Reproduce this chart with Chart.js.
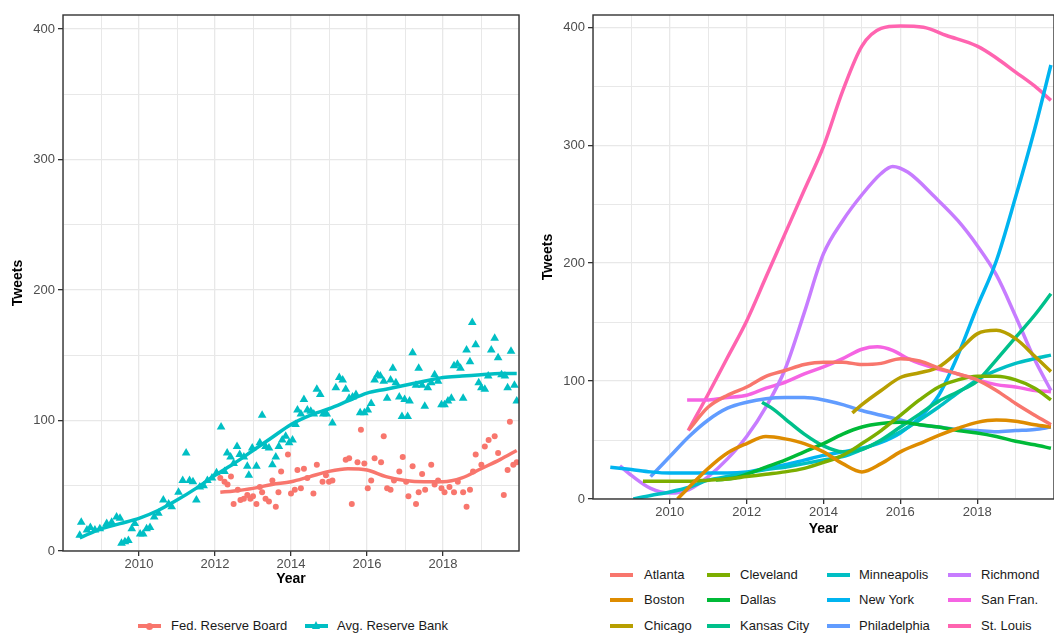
<!DOCTYPE html>
<html>
<head>
<meta charset="utf-8">
<script src="https://cdn.jsdelivr.net/npm/chart.js@4.4.1/dist/chart.umd.min.js"></script>
<style>
  html, body { margin: 0; padding: 0; background: #fff; overflow: hidden; }
  body { width: 1054px; height: 635px; position: relative; font-family: 'Liberation Sans', Arial, sans-serif; }
  #leftWrap { position: absolute; left: 0; top: 0; width: 530px; height: 600px; }
  #rightWrap { position: absolute; left: 530px; top: 0; width: 525px; height: 550px; }
  .key { position: absolute; height: 16px; font-size: 13px; color: #1a1a1a; line-height: 16px; white-space: nowrap; }
  .key .swatch { position: absolute; left: 0; top: 6px; width: 23px; height: 4px; }
  .key .dot { position: absolute; left: 8px; top: 5px; width: 7px; height: 7px; border-radius: 50%; }
  .key .tri { position: absolute; left: 7px; top: 3px; width: 0; height: 0; border-left: 4.5px solid transparent; border-right: 4.5px solid transparent; }
  .key .lbl { position: absolute; top: 0; }
</style>
</head>
<body>
<div id="leftWrap"><canvas id="leftChart" width="530" height="600"></canvas></div>
<div id="rightWrap"><canvas id="rightChart" width="525" height="550"></canvas></div>
<script>
// ---- left panel: monthly tweets ----
const bankYears = [2008.44, 2008.48, 2008.63, 2008.72, 2008.84, 2008.97, 2009.15, 2009.28, 2009.41, 2009.5,
  2009.54, 2009.63, 2009.72, 2009.81, 2009.89, 2010.03, 2010.11, 2010.2, 2010.29, 2010.4,
  2010.51, 2010.64, 2010.78, 2010.86, 2011.04, 2011.15, 2011.24, 2011.33, 2011.42, 2011.51,
  2011.6, 2011.7, 2011.8, 2011.92, 2012.04, 2012.16, 2012.25, 2012.32, 2012.41, 2012.49,
  2012.58, 2012.65, 2012.76, 2012.85, 2012.89, 2012.98, 2013.09, 2013.18, 2013.24, 2013.33,
  2013.42, 2013.51, 2013.6, 2013.68, 2013.77, 2013.86, 2013.95, 2014.04, 2014.12, 2014.17,
  2014.26, 2014.34, 2014.43, 2014.52, 2014.6, 2014.68, 2014.77, 2014.85, 2014.94, 2015.09,
  2015.18, 2015.27, 2015.36, 2015.44, 2015.53, 2015.62, 2015.71, 2015.82, 2015.93, 2016.02,
  2016.11, 2016.2, 2016.28, 2016.35, 2016.44, 2016.53, 2016.62, 2016.68, 2016.76, 2016.85,
  2016.92, 2016.99, 2017.07, 2017.12, 2017.2, 2017.29, 2017.36, 2017.45, 2017.52, 2017.6,
  2017.69, 2017.78, 2017.87, 2017.96, 2018.04, 2018.13, 2018.22, 2018.29, 2018.38, 2018.46,
  2018.53, 2018.62, 2018.71, 2018.77, 2018.86, 2018.94, 2019.01, 2019.1, 2019.19, 2019.27,
  2019.36, 2019.45, 2019.54, 2019.63, 2019.7, 2019.79, 2019.88, 2019.94];
const bankTweets = [12, 22, 16, 18, 16, 17, 21, 22, 26, 25,
  6, 7, 8, 17, 21, 13, 13, 17, 18, 26,
  29, 39, 36, 34, 45, 54, 75, 54, 53, 39,
  49, 50, 54, 56, 60, 95, 61, 75, 72, 67,
  80, 74, 72, 65, 58, 79, 65, 83, 104, 80,
  79, 66, 72, 80, 85, 88, 83, 85, 97, 108,
  105, 116, 108, 107, 105, 124, 120, 105, 105, 98,
  125, 133, 131, 124, 117, 118, 120, 106, 106, 108,
  113, 131, 135, 134, 130, 117, 131, 140, 129, 118,
  103, 116, 103, 115, 152, 127, 140, 127, 111, 125,
  129, 135, 130, 112, 112, 115, 117, 142, 143, 140,
  117, 154, 145, 175, 158, 129, 125, 124, 134, 154,
  163, 148, 135, 134, 125, 153, 127, 115];

const boardYears = [2012.14, 2012.25, 2012.33, 2012.42, 2012.49, 2012.6, 2012.67, 2012.76, 2012.85, 2012.93,
  2013.0, 2013.09, 2013.18, 2013.24, 2013.33, 2013.42, 2013.51, 2013.6, 2013.67, 2013.74,
  2013.92, 2014.0, 2014.1, 2014.17, 2014.26, 2014.34, 2014.43, 2014.59, 2014.68, 2014.83,
  2014.92, 2015.0, 2015.09, 2015.44, 2015.53, 2015.6, 2015.75, 2015.84, 2015.93, 2016.02,
  2016.11, 2016.2, 2016.37, 2016.44, 2016.53, 2016.62, 2016.71, 2016.85, 2016.94, 2017.03,
  2017.09, 2017.2, 2017.29, 2017.36, 2017.45, 2017.53, 2017.69, 2017.78, 2017.87, 2017.96,
  2018.04, 2018.17, 2018.29, 2018.39, 2018.53, 2018.62, 2018.71, 2018.79, 2018.86, 2019.01,
  2019.1, 2019.2, 2019.36, 2019.45, 2019.6, 2019.7, 2019.76, 2019.85, 2019.94];
const boardTweets = [56, 53, 51, 57, 36, 47, 39, 40, 43, 40,
  42, 36, 49, 45, 40, 38, 54, 34, 45, 61,
  74, 44, 47, 62, 48, 63, 56, 44, 66, 53,
  58, 53, 54, 70, 71, 36, 68, 93, 67, 48,
  54, 71, 68, 88, 48, 47, 54, 61, 72, 53,
  42, 65, 36, 45, 59, 47, 66, 51, 54, 48,
  45, 49, 45, 53, 45, 34, 47, 61, 74, 66,
  80, 85, 88, 75, 43, 62, 99, 66, 68];

// smoothed trends
const bankFitYears = [2008.44, 2009, 2009.5, 2010, 2010.5, 2011, 2011.5, 2012, 2012.5, 2013, 2013.5, 2014,
  2014.5, 2015, 2015.5, 2016, 2016.5, 2017, 2017.5, 2018, 2018.5, 2019, 2019.5, 2019.94];
const bankFit = [10, 17, 21, 25, 31, 39, 48, 58, 67, 77, 87, 97,
  104, 109, 115, 121, 124, 127, 130, 133, 134, 135, 136, 136];
const boardFitYears = [2012.14, 2012.5, 2013, 2013.5, 2014, 2014.5, 2015, 2015.5, 2016, 2016.5,
  2017, 2017.5, 2018, 2018.5, 2019, 2019.5, 2019.94];
const boardFit = [45, 46, 48, 51, 53, 57, 61, 63, 62, 57, 54, 53, 53, 56, 63, 70, 77];

// ---- right panel: smoothed tweets per bank, [year, tweets] ----
const atlanta = [[2010.5, 59], [2011, 78], [2011.5, 88], [2012, 95], [2012.5, 104], [2013, 109], [2013.5, 114],
  [2014, 116], [2014.5, 116], [2015, 114], [2015.5, 115], [2016, 119], [2016.5, 117], [2017, 111],
  [2017.5, 106], [2018, 101], [2018.5, 92], [2019, 81], [2019.5, 71], [2019.92, 63]];
const boston = [[2010.2, 0], [2010.5, 10], [2011, 26], [2011.5, 39], [2012, 47], [2012.5, 53], [2013, 51],
  [2013.5, 47], [2014, 40], [2014.5, 30], [2015, 23], [2015.5, 30], [2016, 40], [2016.5, 47], [2017, 54],
  [2017.5, 60], [2018, 65], [2018.5, 67], [2019, 66], [2019.5, 63], [2019.92, 61]];
const chicago = [[2014.75, 73], [2015, 80], [2015.5, 92], [2016, 103], [2016.5, 107], [2017, 112],
  [2017.5, 125], [2018, 140], [2018.5, 143], [2019, 136], [2019.5, 121], [2019.92, 108]];
const cleveland = [[2009.3, 15], [2010, 15], [2010.5, 15], [2011, 16], [2011.5, 17], [2012, 19], [2012.5, 21],
  [2013, 23], [2013.5, 26], [2014, 31], [2014.5, 37], [2015, 47], [2015.5, 58], [2016, 71], [2016.5, 84],
  [2017, 95], [2017.5, 101], [2018, 104], [2018.5, 104], [2019, 101], [2019.5, 94], [2019.92, 84]];
const dallas = [[2011.2, 16], [2011.7, 18], [2012, 21], [2012.5, 27], [2013, 33], [2013.5, 40], [2014, 47],
  [2014.5, 55], [2015, 61], [2015.5, 64], [2016, 65], [2016.5, 63], [2017, 61], [2017.5, 58], [2018, 56],
  [2018.5, 53], [2019, 49], [2019.5, 46], [2019.92, 43]];
const kansasCity = [[2012.4, 82], [2012.7, 76], [2013, 68], [2013.5, 55], [2014, 45], [2014.5, 40], [2015, 42],
  [2015.5, 50], [2016, 61], [2016.5, 72], [2017, 83], [2017.5, 91], [2018, 100], [2018.5, 118], [2019, 137],
  [2019.5, 156], [2019.92, 174]];
const minneapolis = [[2009.05, 0], [2009.5, 3], [2010, 6], [2010.5, 10], [2011, 16], [2011.5, 19], [2012, 22],
  [2012.5, 25], [2013, 27], [2013.5, 30], [2014, 33], [2014.5, 36], [2015, 42], [2015.5, 49], [2016, 57],
  [2016.5, 67], [2017, 78], [2017.5, 90], [2018, 101], [2018.5, 109], [2019, 115], [2019.5, 119], [2019.92, 122]];
const newYork = [[2008.45, 27], [2009, 25], [2009.5, 23], [2010, 22], [2010.5, 22], [2011, 22], [2011.5, 22],
  [2012, 23], [2012.5, 26], [2013, 29], [2013.5, 33], [2014, 37], [2014.5, 40], [2015, 43], [2015.5, 48],
  [2016, 56], [2016.5, 69], [2017, 88], [2017.5, 122], [2018, 163], [2018.5, 202], [2019, 256], [2019.5, 314],
  [2019.92, 368]];
const philadelphia = [[2009.5, 19], [2010, 36], [2010.5, 53], [2011, 67], [2011.5, 77], [2012, 82], [2012.5, 85],
  [2013, 86], [2013.5, 86], [2014, 84], [2014.5, 80], [2015, 75], [2015.5, 71], [2016, 67], [2016.5, 63],
  [2017, 61], [2017.5, 59], [2018, 58], [2018.5, 57], [2019, 58], [2019.5, 59], [2019.92, 61]];
const richmond = [[2008.7, 28], [2009, 20], [2009.5, 9], [2010, 5], [2010.5, 8], [2011, 19], [2011.5, 34],
  [2012, 53], [2012.5, 78], [2013, 110], [2013.5, 158], [2014, 208], [2014.5, 236], [2015, 258], [2015.5, 276],
  [2015.8, 282], [2016.2, 277], [2016.9, 256], [2017.5, 236], [2018, 215], [2018.5, 190], [2019, 155],
  [2019.5, 118], [2019.92, 92]];
const sanFran = [[2010.45, 84], [2011, 84], [2011.5, 86], [2012, 88], [2012.5, 94], [2013, 99], [2013.5, 106],
  [2014, 112], [2014.5, 119], [2015, 127], [2015.4, 129], [2015.8, 126], [2016.2, 119], [2016.5, 115],
  [2017, 110], [2017.5, 106], [2018, 101], [2018.5, 97], [2019, 95], [2019.5, 92], [2019.92, 91]];
const stLouis = [[2010.48, 58], [2011, 89], [2011.5, 120], [2012, 151], [2012.5, 188], [2013, 225],
  [2013.5, 262], [2014, 299], [2014.5, 346], [2015, 384], [2015.5, 399], [2016, 401], [2016.6, 400],
  [2017.2, 393], [2018, 384], [2018.5, 374], [2019, 362], [2019.5, 350], [2019.92, 338]];

const cityNames = ['Atlanta', 'Boston', 'Chicago', 'Cleveland', 'Dallas', 'Kansas City',
  'Minneapolis', 'New York', 'Philadelphia', 'Richmond', 'San Fran.', 'St. Louis'];
const cityColors = ['#F8766D', '#DE8C00', '#B79F00', '#7CAE00', '#00BA38', '#00C08B',
  '#00BFC4', '#00B4F0', '#619CFF', '#C77CFF', '#F564E3', '#FF64B0'];
const citySeries = [atlanta, boston, chicago, cleveland, dallas, kansasCity,
  minneapolis, newYork, philadelphia, richmond, sanFran, stLouis];

const yTickLabels = [0, 100, 200, 300, 400];
const xTickLabels = [2010, 2012, 2014, 2016, 2018];

const boardColor = '#F8766D';
const bankColor = '#00BFC4';

Chart.defaults.font.family = "'Liberation Sans', Arial, sans-serif";
Chart.defaults.animation = false;

const zip = (xs, ys) => xs.map((x, i) => ({ x: x, y: ys[i] }));

const panelBorder = {
  id: 'panelBorder',
  afterDraw(chart) {
    const a = chart.chartArea;
    const ctx = chart.ctx;
    ctx.save();
    ctx.strokeStyle = '#333';
    ctx.lineWidth = 1.4;
    ctx.strokeRect(a.left, a.top, a.right - a.left, a.bottom - a.top);
    ctx.restore();
  }
};

function scaleOptions(yMax, xAxisHeight) {
  return {
    x: {
      type: 'linear',
      min: 2008,
      max: 2020,
      border: { display: false },
      grid: {
        color: '#E8E8E8',
        lineWidth: c => xTickLabels.includes(Math.round(c.tick.value)) ? 1.3 : 1,
        tickLength: 5,
        tickColor: c => xTickLabels.includes(Math.round(c.tick.value)) ? '#333' : 'rgba(0,0,0,0)'
      },
      ticks: {
        stepSize: 1,
        includeBounds: false,
        maxTicksLimit: 30,
        autoSkip: false,
        maxRotation: 0,
        padding: 1,
        color: '#4D4D4D',
        font: { size: 13 },
        callback: v => xTickLabels.includes(Math.round(v)) ? String(Math.round(v)) : ''
      },
      title: {
        display: true,
        text: 'Year',
        color: '#000',
        font: { size: 14, weight: 'bold' },
        padding: { top: 0, bottom: 0 }
      },
      afterFit: s => { s.height = xAxisHeight; }
    },
    y: {
      min: 0,
      max: yMax,
      border: { display: false },
      grid: {
        color: '#E8E8E8',
        lineWidth: c => yTickLabels.includes(c.tick.value) ? 1.3 : 1,
        tickLength: 5,
        tickColor: c => yTickLabels.includes(c.tick.value) ? '#333' : 'rgba(0,0,0,0)'
      },
      ticks: {
        stepSize: 50,
        includeBounds: false,
        maxTicksLimit: 30,
        padding: 3,
        color: '#4D4D4D',
        font: { size: 13 },
        callback: v => yTickLabels.includes(v) ? String(v) : ''
      },
      title: {
        display: true,
        text: 'Tweets',
        color: '#000',
        font: { size: 14, weight: 'bold' },
        padding: { top: 10, bottom: 0 }
      },
      afterFit: s => { s.width = 63; }
    }
  };
}

new Chart(document.getElementById('leftChart'), {
  type: 'scatter',
  data: {
    datasets: [
      { label: 'Avg. Reserve Bank fit', data: zip(bankFitYears, bankFit), showLine: true,
        borderColor: bankColor, borderWidth: 3.5, pointRadius: 0, cubicInterpolationMode: 'monotone' },
      { label: 'Fed. Reserve Board fit', data: zip(boardFitYears, boardFit), showLine: true,
        borderColor: boardColor, borderWidth: 3.5, pointRadius: 0, cubicInterpolationMode: 'monotone' },
      { label: 'Fed. Reserve Board', data: zip(boardYears, boardTweets), pointStyle: 'circle',
        pointRadius: 3, backgroundColor: boardColor, borderColor: boardColor, borderWidth: 0 },
      { label: 'Avg. Reserve Bank', data: zip(bankYears, bankTweets), pointStyle: 'triangle',
        pointRadius: 5, backgroundColor: bankColor, borderColor: bankColor, borderWidth: 0 }
    ]
  },
  options: {
    responsive: false,
    layout: { padding: { top: 15, right: 11, bottom: 12, left: 0 } },
    plugins: { legend: { display: false }, tooltip: { enabled: false } },
    scales: scaleOptions(410.7, 37)
  },
  plugins: [panelBorder]
});

new Chart(document.getElementById('rightChart'), {
  type: 'scatter',
  data: {
    datasets: citySeries.map((s, i) => ({
      label: cityNames[i],
      data: s.map(p => ({ x: p[0], y: p[1] })),
      showLine: true,
      borderColor: cityColors[i],
      borderWidth: 3.5,
      pointRadius: 0,
      cubicInterpolationMode: 'monotone',
      clip: 0
    }))
  },
  options: {
    responsive: false,
    layout: { padding: { top: 15, right: 0, bottom: 12, left: 0 } },
    plugins: { legend: { display: false }, tooltip: { enabled: false } },
    scales: scaleOptions(410.4, 39)
  },
  plugins: [panelBorder]
});

// ---- legends ----
function addKey(swatchX, textX, y, label, color, marker) {
  const d = document.createElement('div');
  d.className = 'key';
  d.style.left = swatchX + 'px';
  d.style.top = (y - 8) + 'px';
  const sw = document.createElement('div');
  sw.className = 'swatch';
  sw.style.background = color;
  d.appendChild(sw);
  if (marker === 'dot') {
    const m = document.createElement('div');
    m.className = 'dot';
    m.style.background = color;
    d.appendChild(m);
  } else if (marker === 'tri') {
    const m = document.createElement('div');
    m.className = 'tri';
    m.style.borderBottom = '8px solid ' + color;
    d.appendChild(m);
  }
  const t = document.createElement('span');
  t.className = 'lbl';
  t.style.left = (textX - swatchX) + 'px';
  t.textContent = label;
  d.appendChild(t);
  document.body.appendChild(d);
}

addKey(138, 171, 626, 'Fed. Reserve Board', boardColor, 'dot');
addKey(305, 337, 626, 'Avg. Reserve Bank', bankColor, 'tri');

const keyCols = [610, 707, 827, 948];
const keyTextCols = [644, 740, 859, 981];
const keyRows = [575, 600, 626];
cityNames.forEach((name, i) => {
  const col = Math.floor(i / 3);
  const row = i % 3;
  addKey(keyCols[col], keyTextCols[col], keyRows[row], name, cityColors[i], null);
});
</script>
</body>
</html>
